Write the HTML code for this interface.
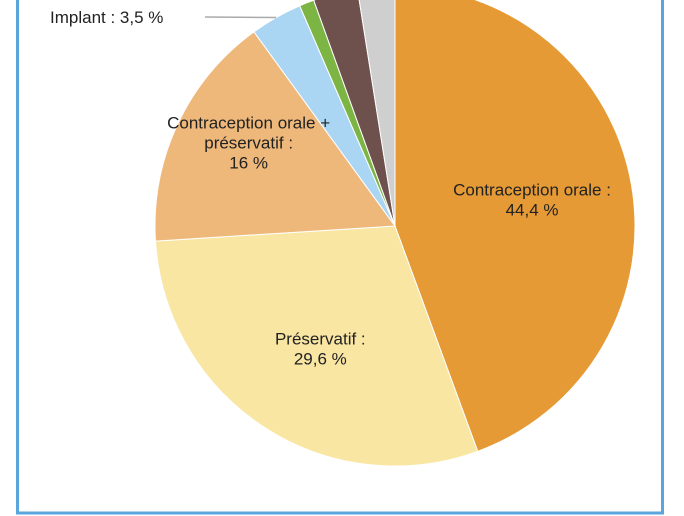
<!DOCTYPE html>
<html><head><meta charset="utf-8"><style>
html,body{margin:0;padding:0;background:#fff;}
svg{display:block;font-family:"Liberation Sans",sans-serif;}
</style></head><body>
<svg width="684" height="516" viewBox="0 0 684 516">
<rect x="17.5" y="-5" width="645" height="518" fill="none" stroke="#5aa5dc" stroke-width="3"/>
<g id="slices"></g>
<g id="labels" font-size="17" fill="#222" text-anchor="middle"></g>
</svg>
<script>
const categories=["Contraception orale","Préservatif","Contraception orale + préservatif","Implant","Autre 1","Autre 2","Autre 3"];
const values=[44.4,29.6,16,3.5,1,3,2.5];
const colors=["#e59a35","#f9e6a3","#eeb87a","#aad6f4","#7db545","#6e504d","#cfcfcf"];
const cx=395,cy=226,r=240;
const total=values.reduce((a,b)=>a+b,0);
const ns="http://www.w3.org/2000/svg";
const g=document.getElementById('slices');
const lg=document.getElementById('labels');
function pt(a,rr){return [cx+rr*Math.sin(a),cy-rr*Math.cos(a)];}
let start=0;const mids=[];
values.forEach((v,i)=>{
 const ang=v/total*2*Math.PI,end=start+ang;
 const [x1,y1]=pt(start,r),[x2,y2]=pt(end,r);
 const p=document.createElementNS(ns,'path');
 p.setAttribute('d',`M${cx},${cy}L${x1},${y1}A${r},${r} 0 ${ang>Math.PI?1:0} 1 ${x2},${y2}Z`);
 p.setAttribute('fill',colors[i]);
 p.setAttribute('stroke','#fff');p.setAttribute('stroke-width','1');
 
 
 g.appendChild(p);
 mids.push(start+ang/2);start=end;
});
function label(lines,x,y,name){
 const t=document.createElementNS(ns,'text');
 t.setAttribute('x',x);t.setAttribute('y',y);
 
 
 lines.forEach((l,k)=>{const s=document.createElementNS(ns,'tspan');s.setAttribute('x',x);s.setAttribute('dy',k?20:0);s.textContent=l;t.appendChild(s);});
 lg.appendChild(t);
}
function fmt(v){return String(v).replace('.',',')+' %';}
let [ax,ay]=pt(mids[0],r*0.58);
label([categories[0]+' :',fmt(values[0])],ax,ay-6,'label-contraception-orale');
[ax,ay]=pt(mids[1],r*0.6);
label([categories[1]+' :',fmt(values[1])],ax+4,ay-2,'label-preservatif');
[ax,ay]=pt(mids[2],r*0.72);
label(['Contraception orale +','préservatif :',fmt(values[2])],ax+10,ay-24,'label-combo');
const [lx,ly]=pt(mids[3],r*1.0);
const ln=document.createElementNS(ns,'line');
ln.setAttribute('x1',205);ln.setAttribute('y1',17);ln.setAttribute('x2',lx);ln.setAttribute('y2',ly);
ln.setAttribute('stroke','#aaa');ln.setAttribute('stroke-width','1.5');


lg.appendChild(ln);
const it=document.createElementNS(ns,'text');
it.setAttribute('x',50);it.setAttribute('y',23);it.setAttribute('text-anchor','start');


it.textContent=categories[3]+' : '+fmt(values[3]);
lg.appendChild(it);
</script>
</body></html>
